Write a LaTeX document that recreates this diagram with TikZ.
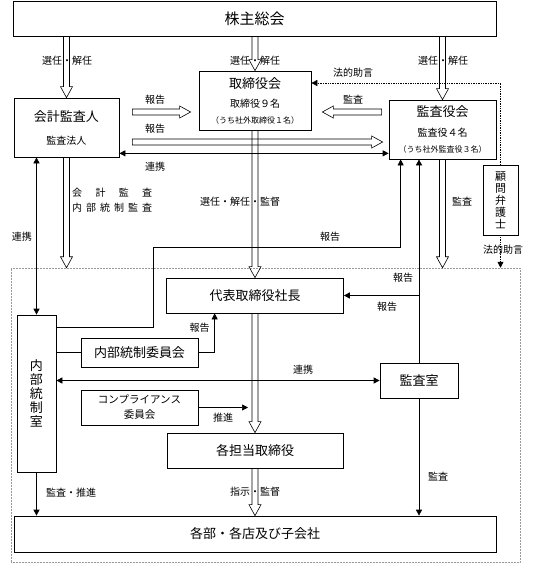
\documentclass[tikz,border=0pt]{standalone}
\usepackage{fontspec}
\setmainfont{Noto Sans CJK JP}
\usetikzlibrary{calc,arrows.meta}

\tikzset{
  box/.style={draw, line width=0.7pt, inner sep=0pt, align=center, font=\fontsize{13}{15}\selectfont},
  region/.style={draw=gray!80, densely dotted, line width=0.5pt, inner sep=0pt},
  lbl/.style={inner sep=0pt, font=\fontsize{10}{11}\selectfont},
  conn/.style={line width=0.7pt},
  advice/.style={line width=0.7pt, densely dotted},
  hollow/.style={line width=0.6pt, line join=miter},
  >={Triangle[length=6pt,width=6pt]},
}
% hollow block arrow from #1 to tip #2
\newcommand{\hollowarrow}[2]{%
  \coordinate (ha) at ($(#2)!11pt!(#1)$);
  \draw[hollow] ($(#1)!3pt!90:(#2)$) -- ($(ha)!3pt!90:(#2)$) -- ($(ha)!6pt!90:(#2)$)
    -- (#2) -- ($(ha)!6pt!-90:(#2)$) -- ($(ha)!3pt!-90:(#2)$) -- ($(#1)!3pt!-90:(#2)$) -- cycle;}

\begin{document}
\begin{tikzpicture}[x=1pt,y=-1pt]
  \useasboundingbox (0,0) rectangle (538,563);

  % dotted area (execution side)
  \node[region, minimum width=509pt, minimum height=294pt] (region) at (265.5,415) {};

  % boxes
  \node[box, minimum width=483pt, minimum height=35pt, font=\fontsize{15}{15}\selectfont] (kabunushi) at (254.5,18.5) {株主総会};
  \node[box, minimum width=105pt, minimum height=59pt] (kaikei) at (66.5,127.5)
    {会計監査人\\[8pt]{\fontsize{10}{10}\selectfont 監査法人}};
  \node[box, minimum width=112pt, minimum height=59pt] (torishimari) at (255,100.5)
    {取締役会\\[4pt]{\fontsize{10}{10}\selectfont 取締役９名}\\[1pt]{\fontsize{8}{10}\selectfont （うち社外取締役１名）}};
  \node[box, minimum width=107pt, minimum height=59pt] (kansayaku) at (442.5,129.5)
    {監査役会\\[5pt]{\fontsize{10}{10}\selectfont 監査役４名}\\[1pt]{\fontsize{8}{10}\selectfont （うち社外監査役３名）}};
  \node[box, minimum width=35pt, minimum height=70pt, font=\fontsize{11}{12}\selectfont] (komon) at (500.5,200)
    {顧\\問\\弁\\護\\士};
  \node[box, minimum width=177pt, minimum height=35pt] (daihyo) at (255,295.5) {代表取締役社長};
  \node[box, minimum width=117pt, minimum height=29pt] (iinkai) at (139.5,352.5) {内部統制委員会};
  \node[box, minimum width=117pt, minimum height=35pt, font=\fontsize{10.5}{15}\selectfont] (comp) at (139.5,407.5)
    {コンプライアンス\\委員会};
  \node[box, minimum width=176pt, minimum height=35pt] (kakutanto) at (255,450.5) {各担当取締役};
  \node[box, minimum width=39pt, minimum height=157pt, font=\fontsize{13}{14}\selectfont] (naibu) at (36.5,393.5)
    {内\\部\\統\\制\\室};
  \node[box, minimum width=78pt, minimum height=35pt] (kansashitsu) at (419,380.5) {監査室};
  \node[box, minimum width=482pt, minimum height=36pt] (kakubu) at (255,534) {各部・各店及び子会社};

  % hollow arrows
  \hollowarrow{kabunushi.south -| kaikei.north}{kaikei.north}
  \hollowarrow{kabunushi.south -| torishimari.north}{torishimari.north}
  \hollowarrow{kabunushi.south -| kansayaku.north}{kansayaku.north}
  \coordinate (r1s) at ($(kaikei.east)+(13,-15.5)$);
  \coordinate (r2s) at ($(kaikei.east)+(13,14.5)$);
  \hollowarrow{r1s}{$(r1s -| torishimari.west)+(-8,0)$}
  \hollowarrow{r2s}{$(r2s -| kansayaku.west)+(-6,0)$}
  \hollowarrow{$(r1s -| kansayaku.west)+(-7,0)$}{$(r1s -| torishimari.east)+(11,0)$}
  \hollowarrow{torishimari.south}{daihyo.north}
  \hollowarrow{kaikei.south}{kaikei.south |- region.north}
  \hollowarrow{kansayaku.south}{kansayaku.south |- region.north}
  \hollowarrow{daihyo.south}{kakutanto.north}
  \hollowarrow{kakutanto.south}{kakutanto.south |- kakubu.north}

  % line connectors
  \coordinate (rk1) at ($(kaikei.south east)+(0,-4)$);
  \draw[conn,<->] (rk1) -- (rk1 -| kansayaku.west);
  \draw[conn,<->] (naibu.north) -- (naibu.north |- kaikei.south);
  \coordinate (hk1) at ($(naibu.north east)+(0,13)$);
  \coordinate (hk2) at (153,247);
  \draw[conn,->] (hk1) -| (hk2) -| ($(kansayaku.south west)+(12,0)$);
  \draw[conn,->] (kansashitsu.north) -- (kansashitsu.north |- kansayaku.south);
  \draw[conn,->] (kansashitsu.north |- daihyo.east) -- (daihyo.east);
  \draw[conn,->] (kansashitsu.south) -- (kansashitsu.south |- kakubu.north);
  \draw[conn] (iinkai.west -| naibu.east) -- (iinkai.west);
  \draw[conn,->] (iinkai.east) -| ($(daihyo.south west)+(48.5,0)$);
  \draw[conn,<->] (kansashitsu.west) -- (kansashitsu.west -| naibu.east);
  \coordinate (sx) at ($(daihyo.south)+(-7,0)$);
  \draw[conn,->] (comp.east) -- (comp.east -| sx);
  \draw[conn,->] (naibu.south) -- (naibu.south |- kakubu.north);
  \draw[advice,->] (komon.north) |- ($(torishimari.east)+(0,-17.5)$);
  \draw[advice,->] (komon.south) -- (komon.south |- region.north);

  % labels
  \node[lbl] (lSen1) at (67,61) {選任・解任};
  \node[lbl] (lSen2) at (255,61) {選任・解任};
  \node[lbl] (lSen3) at (443,61) {選任・解任};
  \node[lbl] (lHou1) at (353,73) {法的助言};
  \node[lbl] (lHok1) at (155,100) {報告};
  \node[lbl] (lKan1) at (353,100) {監査};
  \node[lbl] (lHok2) at (155,129) {報告};
  \node[lbl] (lRen1) at (155,167) {連携};
  \node[lbl, anchor=west] (lKaikei) at (72,193) {\makebox[80pt][s]{会\hfill 計\hfill 監\hfill 査}};
  \node[lbl, anchor=west] (lNaibu) at (72,208) {\makebox[80pt][s]{内\hfill 部\hfill 統\hfill 制\hfill 監\hfill 査}};
  \node[lbl] (lSen4) at (240,202) {選任・解任・監督};
  \node[lbl] (lKan2) at (462,202) {監査};
  \node[lbl] (lRen2) at (22,237) {連携};
  \node[lbl] (lHok3) at (330,237) {報告};
  \node[lbl] (lHou2) at (503,250) {法的助言};
  \node[lbl] (lHok4) at (403,278) {報告};
  \node[lbl] (lHok5) at (387,307) {報告};
  \node[lbl] (lHok6) at (199.5,328) {報告};
  \node[lbl] (lRen3) at (303,370) {連携};
  \node[lbl] (lSui1) at (223,418) {推進};
  \node[lbl] (lKan3) at (438,477) {監査};
  \node[lbl] (lKan4) at (71,493) {監査・推進};
  \node[lbl] (lShi1) at (255,492) {指示・監督};
\end{tikzpicture}
\end{document}
